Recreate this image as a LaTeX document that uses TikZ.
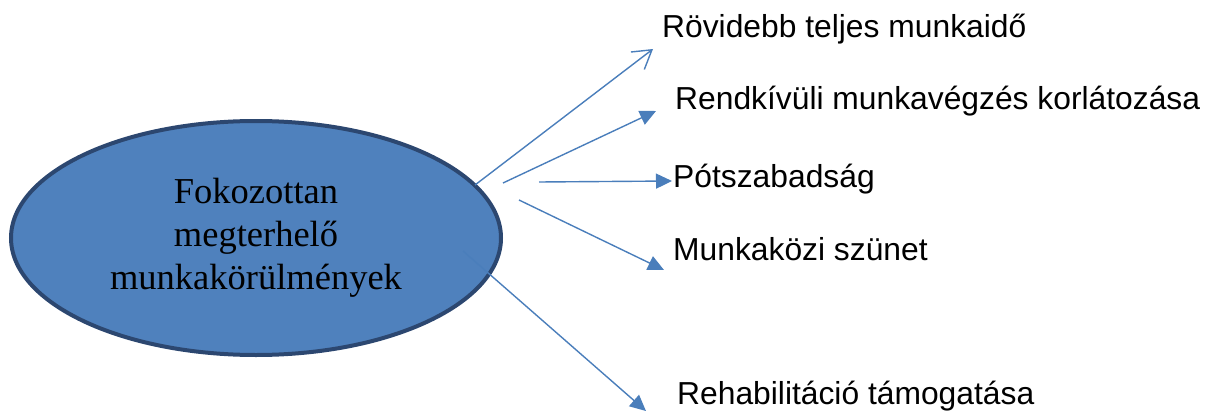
\documentclass[tikz,border=0pt]{standalone}
\usepackage{fontspec}
\setmainfont{Liberation Serif}
\newfontfamily\labelfont{Liberation Sans}
\usetikzlibrary{shapes.geometric,arrows.meta}
\definecolor{ovalfill}{HTML}{4F81BD}
\definecolor{ovaledge}{HTML}{2C4770}
\definecolor{arrowblue}{HTML}{4A7EBB}
\tikzset{
    oval/.style={ellipse, fill=ovalfill, draw=ovaledge, line width=4pt, minimum width=490pt, minimum height=234pt, align=center, font=\fontsize{36.5}{43}\selectfont},
    factor/.style={anchor=base west, inner sep=0pt, font=\labelfont\fontsize{31.8}{36}\selectfont},
    link/.style={draw=arrowblue, line width=1.4pt, -{Triangle[length=16pt,width=15pt]}},
    openlink/.style={draw=arrowblue, line width=1.4pt, -{Straight Barb[length=18pt,width=22pt,line width=1.4pt]}}
}
\begin{document}
\begin{tikzpicture}[x=1pt, y=-1pt]
    \useasboundingbox (0,0) rectangle (1211,412);
    % central oval
    \node[oval] (cond) at (256,238) {Fokozottan\\megterhelő\\munkakörülmények};
    % measures
    \node[factor] (shorter) at (662,38) {Rövidebb teljes munkaidő};
    \node[factor] (overtime) at (675,110) {Rendkívüli munkavégzés korlátozása};
    \node[factor] (leave) at (673,187) {Pótszabadság};
    \node[factor] (break) at (673,260) {Munkaközi szünet};
    \node[factor] (rehab) at (677,404) {Rehabilitáció támogatása};
    % arrow ends
    \coordinate (s1) at (475,185);
    \coordinate (t1) at (653,49);
    \coordinate (s2) at (503,183);
    \coordinate (t2) at (656,111);
    \coordinate (s3) at (539,182);
    \coordinate (t3) at (672,181);
    \coordinate (s4) at (519,200);
    \coordinate (t4) at (664,270);
    \coordinate (s5) at (463,251);
    \coordinate (t5) at (646,411);
    \draw[openlink] (s1) -- (t1);
    \draw[link] (s2) -- (t2);
    \draw[link] (s3) -- (t3);
    \draw[link] (s4) -- (t4);
    \draw[link] (s5) -- (t5);
\end{tikzpicture}
\end{document}
